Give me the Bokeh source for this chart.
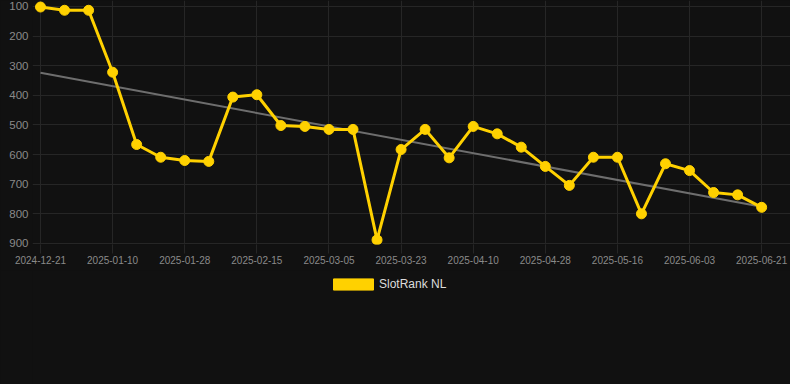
from bokeh.plotting import figure
from bokeh.layouts import column
from bokeh.models import Range1d, FixedTicker, Legend, LegendItem, ColumnDataSource
from bokeh.embed import file_html
from bokeh.resources import INLINE

# data
ranks = [102, 113, 113, 322, 566, 609, 620, 623, 406, 398,
         502, 505, 515, 515, 888, 583, 515, 611, 505, 530,
         575, 640, 704, 609, 609, 800, 631, 654, 728, 736, 778]
idx = list(range(len(ranks)))
trend_x = [0, 30]
trend_y = [324, 776]
tick_pos = [0, 3, 6, 9, 12, 15, 18, 21, 24, 27, 30]
tick_labels = ['2024-12-21', '2025-01-10', '2025-01-28', '2025-02-15', '2025-03-05',
               '2025-03-23', '2025-04-10', '2025-04-28', '2025-05-16', '2025-06-03', '2025-06-21']
y_ticks = [100, 200, 300, 400, 500, 600, 700, 800, 900]
series_name = "SlotRank NL"

BG = "#111111"
GRID = "#262626"
TXT = "#8a8a8a"
YEL = "#FFD100"
FONT = "Liberation Sans"

p = figure(width=790, height=270, output_backend="svg", toolbar_location=None,
           x_range=Range1d(-0.333, 31.2), y_range=Range1d(903.5, 80),
           min_border_left=32, min_border_right=0, min_border_top=0, min_border_bottom=26)
p.background_fill_color = BG
p.border_fill_color = BG
p.outline_line_color = None

p.xaxis.ticker = FixedTicker(ticks=tick_pos)
p.xaxis.major_label_overrides = {t: l for t, l in zip(tick_pos, tick_labels)}
p.yaxis.ticker = FixedTicker(ticks=y_ticks)

for ax in (p.xaxis, p.yaxis):
    ax.axis_line_color = None
    ax.major_tick_line_color = GRID
    ax.minor_tick_line_color = None
    ax.major_tick_in = 0
    ax.major_label_text_color = TXT
    ax.major_label_text_font = FONT
p.xaxis.major_tick_out = 9
p.xaxis.major_label_standoff = 2
p.xaxis.major_label_text_font_size = "10px"
p.yaxis.major_tick_out = 0
p.yaxis.major_label_standoff = 4
p.yaxis.major_label_text_font_size = "11.5px"

p.xgrid.grid_line_color = GRID
p.ygrid.grid_line_color = GRID

p.line(trend_x, trend_y, line_color="#6e6e6e", line_width=2)
p.line(idx, ranks, line_color=YEL, line_width=3)
p.scatter(idx, ranks, size=10, fill_color=YEL, line_color=YEL)

# legend strip below the chart (the swatch renderer lies outside the visible range)
q = figure(width=790, height=114, output_backend="svg", toolbar_location=None,
           x_range=Range1d(0, 1), y_range=Range1d(0, 1),
           min_border_left=0, min_border_right=0, min_border_top=0, min_border_bottom=0)
q.axis.visible = False
q.grid.visible = False
q.background_fill_color = BG
q.border_fill_color = BG
q.outline_line_color = None
dummy = q.quad(source=ColumnDataSource(dict(l=[5], r=[6], t=[6], b=[5])),
               left='l', right='r', top='t', bottom='b', fill_color=YEL, line_color=YEL)

legend = Legend(items=[LegendItem(label=series_name, renderers=[dummy])],
                location=(296, 93), orientation="horizontal",
                glyph_width=50, glyph_height=14, label_height=14, label_standoff=1,
                padding=0, margin=0, spacing=0,
                label_text_font=FONT, label_text_font_size="12px", label_text_color="#dddddd",
                background_fill_alpha=0, border_line_color=None)
q.add_layout(legend, "center")

lay = column(p, q, spacing=0)
lay.styles = {"background-color": BG}
open("out.html", "w").write(file_html(lay, INLINE))
